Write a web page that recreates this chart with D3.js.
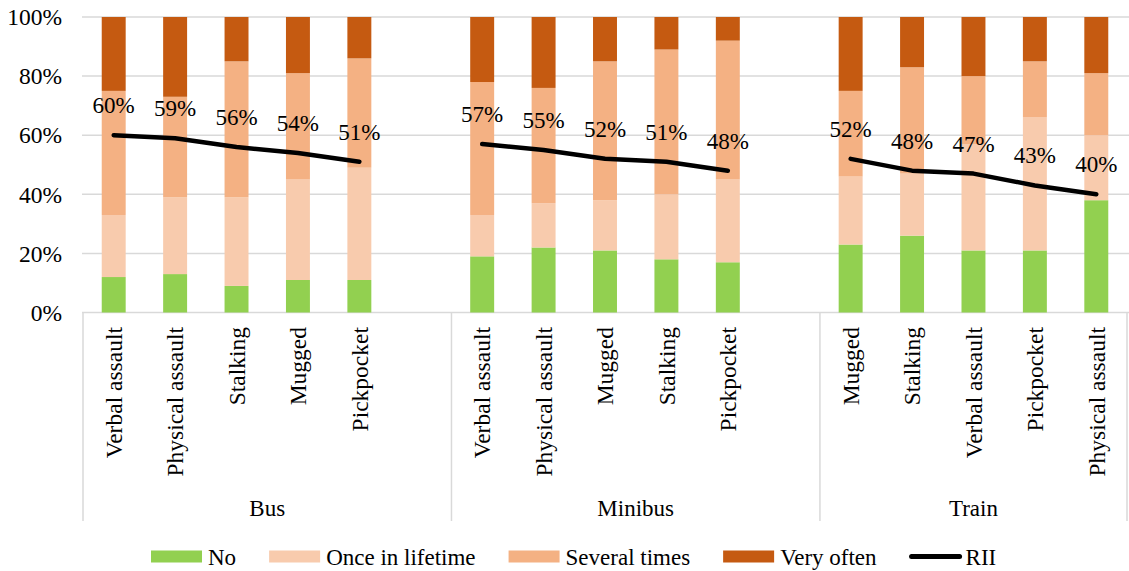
<!DOCTYPE html>
<html>

<head>
  <title>Stacked bars with RII</title>
  <style>
    body,
    html {
      margin: 0;
      padding: 0;
      background: #fff;
    }

    #svg {
      display: block;
    }
  </style>
</head>

<body>

  <svg id="svg" width="1129" height="571"></svg>

  <script src="https://d3js.org/d3.v7.min.js"></script>
  <script>
    const groups = ['Bus', 'Minibus', 'Train']
    const busCats = ['Verbal assault', 'Physical assault', 'Stalking', 'Mugged', 'Pickpocket']
    const minibusCats = ['Verbal assault', 'Physical assault', 'Mugged', 'Stalking', 'Pickpocket']
    const trainCats = ['Mugged', 'Stalking', 'Verbal assault', 'Pickpocket', 'Physical assault']

    const seriesNames = ['No', 'Once in lifetime', 'Several times', 'Very often']
    const noVals = [12, 13, 9, 11, 11, 19, 22, 21, 18, 17, 23, 26, 21, 21, 38]
    const onceVals = [21, 26, 30, 34, 38, 14, 15, 17, 22, 28, 23, 21, 36, 45, 22]
    const severalVals = [42, 34, 46, 36, 37, 45, 39, 47, 49, 47, 29, 36, 23, 19, 21]
    const veryOftenVals = [25, 27, 15, 19, 14, 22, 24, 15, 11, 8, 25, 17, 20, 15, 19]
    const riiVals = [60, 59, 56, 54, 51, 57, 55, 52, 51, 48, 52, 48, 47, 43, 40]
    const yTicks = [0, 20, 40, 60, 80, 100]

    const colors = ['#92d050', '#f8cbad', '#f4b183', '#c55a11']
    const font = '"Liberation Serif", "Times New Roman", serif'

    // build rows, with an empty slot after Bus and Minibus
    const catLists = [busCats, minibusCats, trainCats]
    const rows = []
    const slots = []
    let k = 0
    catLists.forEach((cats, g) => {
      cats.forEach(c => {
        const key = groups[g] + '|' + c
        rows.push({
          key, group: groups[g], cat: c,
          No: noVals[k], 'Once in lifetime': onceVals[k],
          'Several times': severalVals[k], 'Very often': veryOftenVals[k],
          rii: riiVals[k]
        })
        slots.push(key)
        k++
      })
      if (g < catLists.length - 1) slots.push(groups[g] + '|')
    })

    const svg = d3.select('#svg')

    const x = d3.scaleBand()
      .domain(slots)
      .range([83, 1127])
      .paddingInner(0.61)
      .paddingOuter(0.305)
    const step = x.step()
    const center = key => x(key) + x.bandwidth() / 2

    const y = d3.scaleLinear()
      .domain([0, 100])
      .range([312.5, 17])

    // gridlines
    svg.append('g')
      .selectAll('line')
      .data(yTicks)
      .join('line')
      .attr('x1', 82)
      .attr('x2', 1129)
      .attr('y1', d => y(d))
      .attr('y2', d => y(d))
      .attr('stroke', '#d9d9d9')
      .attr('stroke-width', 1.5)

    svg.append('g')
      .selectAll('text')
      .data(yTicks)
      .join('text')
      .attr('x', 62)
      .attr('y', d => y(d))
      .attr('dy', '0.35em')
      .attr('text-anchor', 'end')
      .attr('font-family', font)
      .attr('font-size', 23.5)
      .text(d => d + '%')

    // stacked bars
    const stack = d3.stack().keys(seriesNames)(rows)
    svg.append('g')
      .selectAll('g')
      .data(stack)
      .join('g')
      .attr('fill', (d, i) => colors[i])
      .selectAll('rect')
      .data(d => d)
      .join('rect')
      .attr('x', d => x(d.data.key))
      .attr('width', x.bandwidth())
      .attr('y', d => y(d[1]))
      .attr('height', d => y(d[0]) - y(d[1]))

    // category axis: separators
    const groupStarts = groups.map(g => {
      const first = rows.find(r => r.group === g).key
      return center(first) - step / 2
    })
    const edgeXs = [...groupStarts, 1127]
    svg.append('g')
      .selectAll('line')
      .data(edgeXs)
      .join('line')
      .attr('x1', d => d)
      .attr('x2', d => d)
      .attr('y1', 312.5)
      .attr('y2', 521)
      .attr('stroke', '#d9d9d9')
      .attr('stroke-width', 1.5)

    svg.append('g')
      .selectAll('text')
      .data(rows)
      .join('text')
      .attr('transform', d => `translate(${center(d.key)},327) rotate(-90)`)
      .attr('dy', '0.35em')
      .attr('text-anchor', 'end')
      .attr('font-family', font)
      .attr('font-size', 23.5)
      .text(d => d.cat)

    svg.append('g')
      .selectAll('text')
      .data(groups)
      .join('text')
      .attr('x', (d, i) => (edgeXs[i] + edgeXs[i + 1]) / 2)
      .attr('y', 508)
      .attr('dy', '0.35em')
      .attr('text-anchor', 'middle')
      .attr('font-family', font)
      .attr('font-size', 23)
      .text(d => d)

    // RII lines per group
    const linegen = d3.line()
      .x(d => center(d.key))
      .y(d => y(d.rii))
    groups.forEach(g => {
      svg.append('path')
        .attr('d', linegen(rows.filter(r => r.group === g)))
        .attr('fill', 'none')
        .attr('stroke', '#000')
        .attr('stroke-width', 4.5)
        .attr('stroke-linecap', 'round')
        .attr('stroke-linejoin', 'round')
    })

    svg.append('g')
      .selectAll('text')
      .data(rows)
      .join('text')
      .attr('x', d => center(d.key))
      .attr('y', d => y(d.rii) - 22)
      .attr('text-anchor', 'middle')
      .attr('font-family', font)
      .attr('font-size', 23)
      .text(d => d.rii + '%')

    // legend
    const legendItems = seriesNames.map((s, i) => ({ name: s, color: colors[i], line: false }))
    legendItems.push({ name: 'RII', color: '#000', line: true })
    let lx = 151
    const legend = svg.append('g')
    legendItems.forEach(item => {
      if (item.line) {
        legend.append('line')
          .attr('x1', lx + 2).attr('x2', lx + 50)
          .attr('y1', 556.5).attr('y2', 556.5)
          .attr('stroke', item.color)
          .attr('stroke-width', 5)
          .attr('stroke-linecap', 'round')
      } else {
        legend.append('rect')
          .attr('x', lx).attr('y', 550.5)
          .attr('width', 51).attr('height', 12)
          .attr('fill', item.color)
      }
      const t = legend.append('text')
        .attr('x', lx + (item.line ? 56 : 57))
        .attr('y', 556.5)
        .attr('dy', '0.35em')
        .attr('font-family', font)
        .attr('font-size', 23)
        .text(item.name)
      lx += 57 + t.node().getComputedTextLength() + 33
    })
  </script>
</body>

</html>
